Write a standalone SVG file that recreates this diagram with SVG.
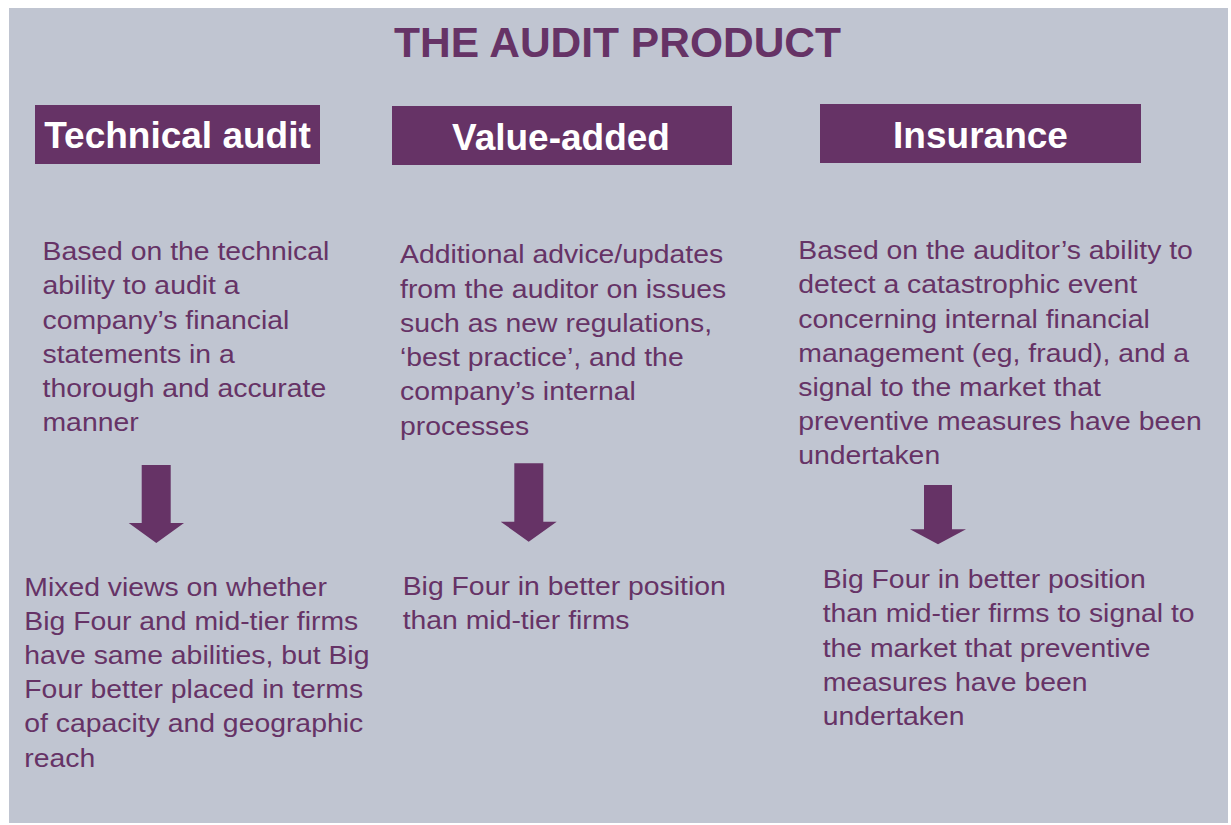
<svg xmlns="http://www.w3.org/2000/svg" width="1231" height="825" viewBox="0 0 1231 825">
<style>
.bg{fill:#C0C5D1}
.hdr{fill:#663366}
.title{font-family:"Liberation Sans",Arial,sans-serif;font-weight:bold;font-size:42.5px;fill:#663366}
.htxt{font-family:"Liberation Sans",Arial,sans-serif;font-weight:bold;font-size:37px;fill:#FFFFFF}
.body{font-family:"Liberation Sans",Arial,sans-serif;font-size:26.5px;fill:#663366}
.arrow{fill:#663366}
</style>
<rect width="1231" height="825" fill="#FFFFFF"/>
<rect class="bg" x="9" y="8" width="1219" height="815"/>
<text id="title" class="title" x="617.5" y="56.5" text-anchor="middle">THE AUDIT PRODUCT</text>

<g id="node-technical">
<rect class="hdr" x="35" y="105" width="285" height="59"/>
<text class="htxt" x="177.5" y="147.7" text-anchor="middle">Technical audit</text>
</g>
<g id="node-value">
<rect class="hdr" x="392" y="106" width="340" height="59"/>
<text class="htxt" x="561" y="150" text-anchor="middle">Value-added</text>
</g>
<g id="node-insurance">
<rect class="hdr" x="820" y="104" width="321" height="59"/>
<text class="htxt" x="980.5" y="148.3" text-anchor="middle">Insurance</text>
</g>

<g id="desc-technical" transform="translate(42.5,0) scale(1.07,1)">
<text class="body" x="0" y="260">Based on the technical</text>
<text class="body" x="0" y="294.3">ability to audit a</text>
<text class="body" x="0" y="328.6">company’s financial</text>
<text class="body" x="0" y="362.9">statements in a</text>
<text class="body" x="0" y="397.2">thorough and accurate</text>
<text class="body" x="0" y="431.5">manner</text>
</g>
<g id="desc-value" transform="translate(400,0) scale(1.07,1)">
<text class="body" x="0" y="263.3">Additional advice/updates</text>
<text class="body" x="0" y="297.6">from the auditor on issues</text>
<text class="body" x="0" y="331.9">such as new regulations,</text>
<text class="body" x="0" y="366.2">‘best practice’, and the</text>
<text class="body" x="0" y="400.5">company’s internal</text>
<text class="body" x="0" y="434.8">processes</text>
</g>
<g id="desc-insurance" transform="translate(798.3,0) scale(1.07,1)">
<text class="body" x="0" y="259.3">Based on the auditor’s ability to</text>
<text class="body" x="0" y="293.5">detect a catastrophic event</text>
<text class="body" x="0" y="327.7">concerning internal financial</text>
<text class="body" x="0" y="361.9">management (eg, fraud), and a</text>
<text class="body" x="0" y="396.1">signal to the market that</text>
<text class="body" x="0" y="430.3">preventive measures have been</text>
<text class="body" x="0" y="464.5">undertaken</text>
</g>

<g id="connectors">
<polygon class="arrow" points="141.7,465 170.7,465 170.7,523 184,523 156.3,543 128.7,523 141.7,523"/>
<polygon class="arrow" points="514.3,463.3 543.3,463.3 543.3,521.7 556.7,521.7 528.7,541.7 500.7,521.7 514.3,521.7"/>
<polygon class="arrow" points="924,485 952,485 952,529.3 966,529.3 938,544.3 910,529.3 924,529.3"/>
</g>

<g id="result-technical" transform="translate(24.3,0) scale(1.07,1)">
<text class="body" x="0" y="595.7">Mixed views on whether</text>
<text class="body" x="0" y="629.9">Big Four and mid-tier firms</text>
<text class="body" x="0" y="664.1">have same abilities, but Big</text>
<text class="body" x="0" y="698.3">Four better placed in terms</text>
<text class="body" x="0" y="732.5">of capacity and geographic</text>
<text class="body" x="0" y="766.7">reach</text>
</g>
<g id="result-value" transform="translate(402.7,0) scale(1.07,1)">
<text class="body" x="0" y="595.3">Big Four in better position</text>
<text class="body" x="0" y="629.5">than mid-tier firms</text>
</g>
<g id="result-insurance" transform="translate(822.7,0) scale(1.07,1)">
<text class="body" x="0" y="588.3">Big Four in better position</text>
<text class="body" x="0" y="622.5">than mid-tier firms to signal to</text>
<text class="body" x="0" y="656.7">the market that preventive</text>
<text class="body" x="0" y="690.9">measures have been</text>
<text class="body" x="0" y="725.1">undertaken</text>
</g>
</svg>
